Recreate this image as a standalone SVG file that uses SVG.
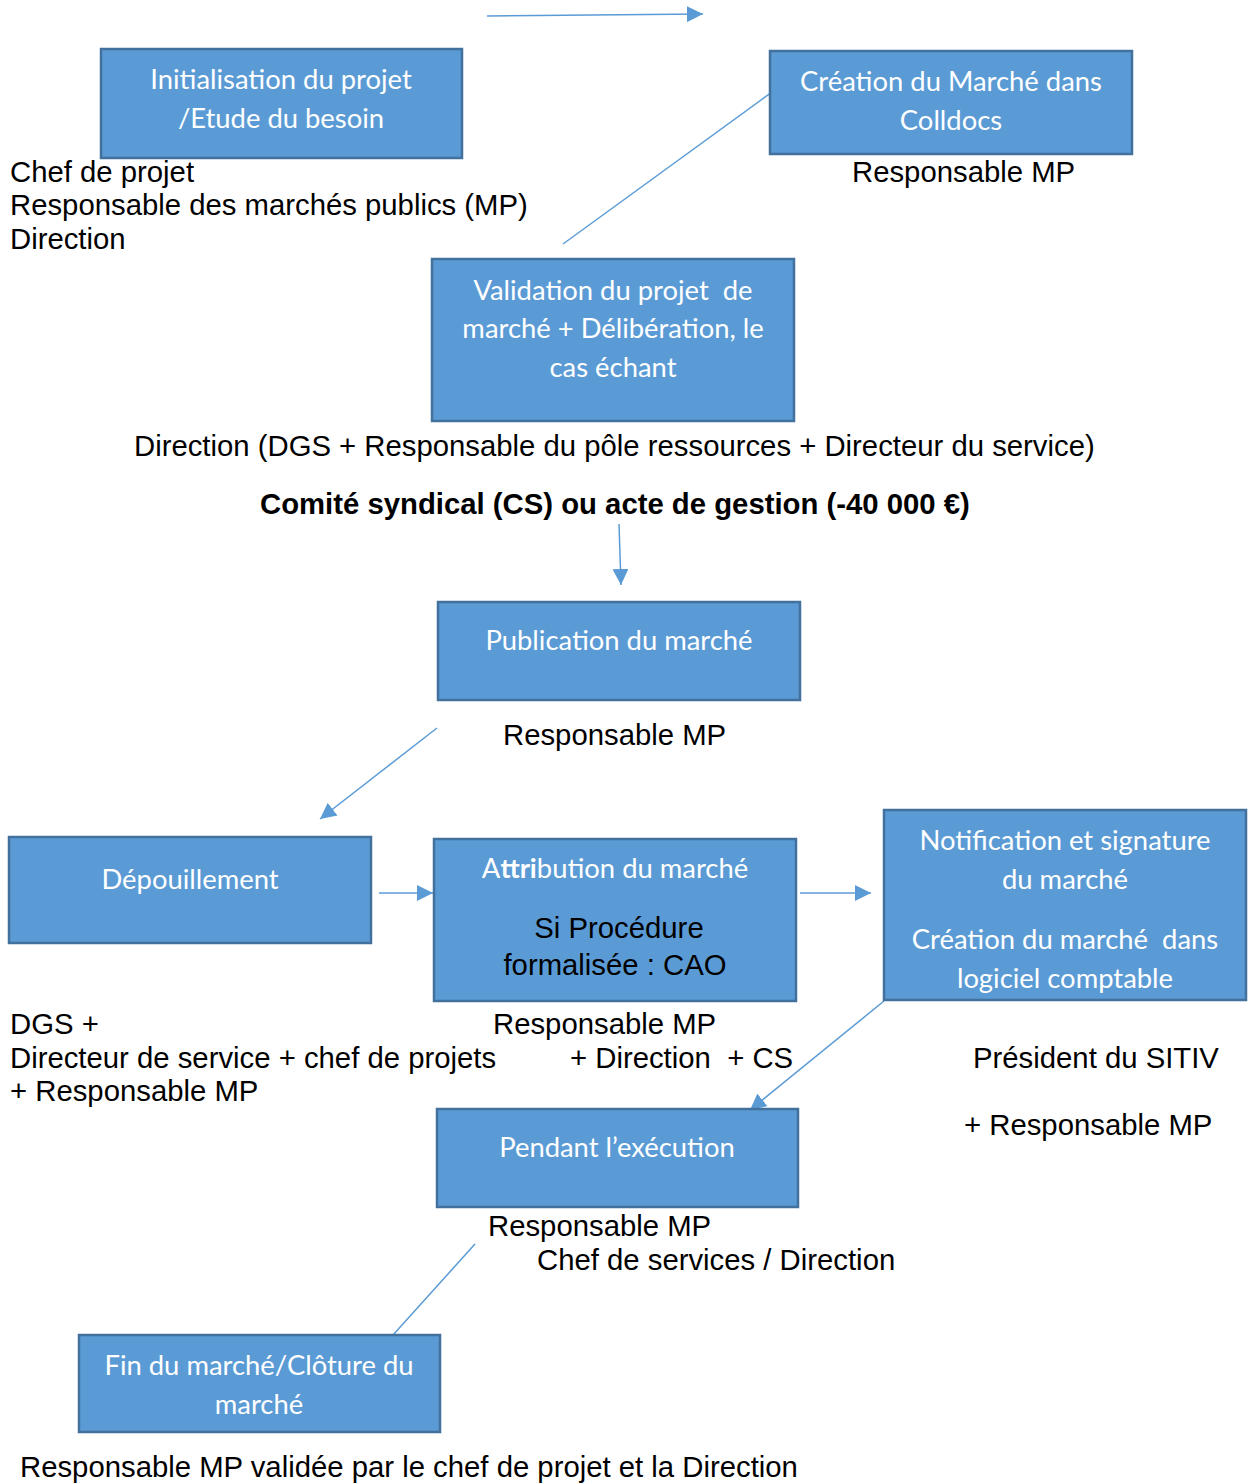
<svg xmlns="http://www.w3.org/2000/svg" width="1248" height="1484" viewBox="0 0 1248 1484">
<defs>
<marker id="ah" viewBox="0 0 10 10" refX="10" refY="5" markerWidth="16" markerHeight="16" markerUnits="userSpaceOnUse" orient="auto">
<path d="M0,0 L10,5 L0,10 Z" fill="#5B9BD5"/>
</marker>
<style>
.box{fill:#5B9BD5;stroke:#41719C;stroke-width:2.5}
.bt{font-family:Lato,"Open Sans",sans-serif;font-size:27.4px;fill:#fff;text-anchor:middle}
.t{font-family:"Liberation Sans",Arial,sans-serif;font-size:29.3px;fill:#000}
.c{stroke:#5B9BD5;stroke-width:1.5;fill:none}
.ca{stroke:#5B9BD5;stroke-width:1.5;fill:none;marker-end:url(#ah)}
</style>
</defs>
<rect width="1248" height="1484" fill="#fff"/>
<g id="connectors">
<line class="ca" x1="487" y1="16" x2="703" y2="14"/>
<line class="c" x1="563" y1="244" x2="772" y2="92"/>
<line class="ca" x1="619" y1="524" x2="621" y2="585"/>
<line class="ca" x1="437" y1="728" x2="320" y2="819"/>
<line class="ca" x1="379" y1="893" x2="433" y2="893"/>
<line class="ca" x1="800" y1="893" x2="871" y2="893"/>
<line class="ca" x1="884" y1="1001" x2="750" y2="1110"/>
<line class="c" x1="475" y1="1244" x2="393" y2="1335"/>
</g>
<g id="n1"><rect class="box" x="101" y="49" width="361" height="109"/>
<text class="bt" x="281" y="89">Initialisation du projet</text>
<text class="bt" x="281" y="128">/Etude du besoin</text></g>
<g id="n2"><rect class="box" x="770" y="51" width="362" height="103"/>
<text class="bt" x="951" y="91">Création du Marché dans</text>
<text class="bt" x="951" y="130">Colldocs</text></g>
<g id="n3"><rect class="box" x="432" y="259" width="362" height="162"/>
<text class="bt" x="613" y="300" xml:space="preserve">Validation du projet  de</text>
<text class="bt" x="613" y="338">marché + Délibération, le</text>
<text class="bt" x="613" y="377">cas échant</text></g>
<g id="n4"><rect class="box" x="438" y="602" width="362" height="98"/>
<text class="bt" x="619" y="650">Publication du marché</text></g>
<g id="n5"><rect class="box" x="9" y="837" width="362" height="106"/>
<text class="bt" x="190" y="889">Dépouillement</text></g>
<g id="n6"><rect class="box" x="434" y="839" width="362" height="162"/>
<text class="bt" x="615" y="878">A<tspan font-weight="bold">ttri</tspan>bution du marché</text>
<text class="t" x="619" y="938" text-anchor="middle">Si Procédure</text>
<text class="t" x="615" y="975" text-anchor="middle">formalisée : CAO</text></g>
<g id="n7"><rect class="box" x="884" y="810" width="362" height="190"/>
<text class="bt" x="1065" y="850">Notification et signature</text>
<text class="bt" x="1065" y="889">du marché</text>
<text class="bt" x="1065" y="949" xml:space="preserve">Création du marché  dans</text>
<text class="bt" x="1065" y="988">logiciel comptable</text></g>
<g id="n8"><rect class="box" x="437" y="1109" width="361" height="98"/>
<text class="bt" x="617" y="1157">Pendant l’exécution</text></g>
<g id="n9"><rect class="box" x="79" y="1335" width="361" height="97"/>
<text class="bt" x="259" y="1375">Fin du marché/Clôture du</text>
<text class="bt" x="259" y="1414">marché</text></g>
<g id="labels">
<text class="t" x="10" y="182">Chef de projet</text>
<text class="t" x="10" y="215">Responsable des marchés publics (MP)</text>
<text class="t" x="10" y="249">Direction</text>
<text class="t" x="852" y="182">Responsable MP</text>
<text class="t" x="134" y="456">Direction (DGS + Responsable du pôle ressources + Directeur du service)</text>
<text class="t" x="260" y="514" font-weight="bold">Comité syndical (CS) ou acte de gestion (-40 000 €)</text>
<text class="t" x="503" y="745">Responsable MP</text>
<text class="t" x="10" y="1034">DGS +</text>
<text class="t" x="10" y="1068">Directeur de service + chef de projets</text>
<text class="t" x="10" y="1101">+ Responsable MP</text>
<text class="t" x="493" y="1034">Responsable MP</text>
<text class="t" x="570" y="1068" xml:space="preserve">+ Direction  + CS</text>
<text class="t" x="973" y="1068">Président du SITIV</text>
<text class="t" x="964" y="1135">+ Responsable MP</text>
<text class="t" x="488" y="1236">Responsable MP</text>
<text class="t" x="537" y="1270">Chef de services / Direction</text>
<text class="t" x="20" y="1477">Responsable MP validée par le chef de projet et la Direction</text>
</g>
</svg>
